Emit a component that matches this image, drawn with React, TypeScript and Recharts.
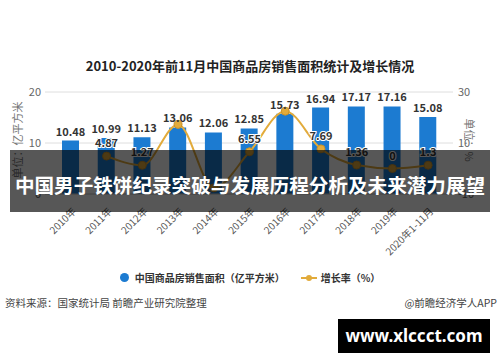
import React from 'react';
import { ComposedChart, Bar, Line, XAxis, YAxis, CartesianGrid, LabelList } from 'recharts';

const years = ['2010年', '2011年', '2012年', '2013年', '2014年', '2015年', '2016年', '2017年', '2018年', '2019年', '2020年1-11月'];
const salesArea = [10.48, 10.99, 11.13, 13.06, 12.06, 12.85, 15.73, 16.94, 17.17, 17.16, 15.08];
const growthRate = [null, 4.87, 1.27, 17.3, -7.6, 6.55, 22.5, 7.69, 1.36, 0, 1.3];
const growthLabels = [null, '4.87', '1.27', null, null, '6.55', null, '7.69', '1.36', '0', '1.3'];
const leftTicks = [0, 10, 20];
const rightTicks = [-10, 10, 30];

const data = years.map((year, i) => ({
  year,
  area: salesArea[i],
  growth: growthRate[i],
}));

const font = '"Noto Sans CJK SC", "Noto Sans", sans-serif';
const BLUE = '#1c7bd1';
const GOLD = '#e2ab3b';

const YearTick = ({ x, y, payload }: any) => (
  <text
    x={x + 4}
    y={y + 8}
    transform={`rotate(-45, ${x + 4}, ${y + 8})`}
    textAnchor="end"
    dominantBaseline="middle"
    fontSize={10}
    fill="#555"
    fontFamily={font}
  >
    {payload.value}
  </text>
);

const GrowthLabel = ({ x, y, index }: any) => {
  const text = growthLabels[index];
  if (!text) return null;
  return (
    <text
      x={x}
      y={y - 9}
      textAnchor="middle"
      fontSize={11}
      fontWeight="bold"
      fill="#333"
      stroke="#fff"
      strokeWidth={2}
      paintOrder="stroke"
      fontFamily={font}
    >
      {text}
    </text>
  );
};

export default function App() {
  return (
    <div style={{ position: 'relative', width: 500, height: 362, background: '#fff', fontFamily: font, overflow: 'hidden' }}>
      <style>{`body{margin:0}`}</style>

      {/* title */}
      <div style={{ position: 'absolute', top: 56, left: 0, width: 500, textAlign: 'center', fontSize: 13, fontWeight: 'bold', color: '#222' }}>
        2010-2020年前11月中国商品房销售面积统计及增长情况
      </div>

      <ComposedChart
        width={500}
        height={260}
        data={data}
        margin={{ top: 92, right: 0, left: 0, bottom: 0 }}
        style={{ position: 'absolute', top: 0, left: 0 }}
      >
        <CartesianGrid yAxisId="left" vertical={false} stroke="#dedede" />
        <XAxis
          dataKey="year"
          height={66}
          padding={{ left: 8, right: 7 }}
          axisLine={{ stroke: '#ccc' }}
          tickLine={false}
          interval={0}
          tick={<YearTick />}
        />
        <YAxis
          yAxisId="left"
          width={45}
          domain={[0, 20]}
          ticks={leftTicks}
          axisLine={false}
          tickLine={false}
          tickSize={0}
          tickMargin={4}
          tick={{ fontSize: 11, fill: '#666', fontFamily: font }}
        />
        <YAxis
          yAxisId="right"
          orientation="right"
          width={47}
          domain={[-10, 30]}
          ticks={rightTicks}
          axisLine={false}
          tickLine={false}
          tickSize={0}
          tickMargin={5}
          tick={{ fontSize: 11, fill: '#666', fontFamily: font }}
        />
        <Bar yAxisId="left" dataKey="area" fill={BLUE} barSize={17} isAnimationActive={false}>
          <LabelList dataKey="area" position="top" offset={5} fontSize={11} fontWeight="bold" fill="#333" fontFamily={font} />
        </Bar>
        <Line
          yAxisId="right"
          type="monotone"
          dataKey="growth"
          stroke={GOLD}
          strokeWidth={2}
          dot={{ r: 4, fill: GOLD, stroke: '#c8912a', strokeWidth: 1 }}
          isAnimationActive={false}
        >
          <LabelList dataKey="growth" content={<GrowthLabel />} />
        </Line>
      </ComposedChart>

      {/* axis units */}
      <div style={{ position: 'absolute', left: 17, top: 140, transform: 'translate(-50%, -50%) rotate(-90deg)', fontSize: 11, color: '#777', whiteSpace: 'nowrap' }}>
        单位：亿平方米
      </div>
      <div style={{ position: 'absolute', left: 470, top: 140, transform: 'translate(-50%, -50%) rotate(90deg)', fontSize: 11, color: '#777', whiteSpace: 'nowrap' }}>
        单位：%
      </div>

      {/* legend */}
      <div style={{ position: 'absolute', top: 270, left: 0, width: 500, display: 'flex', justifyContent: 'center', alignItems: 'center', fontSize: 10, color: '#333', fontWeight: 'bold' }}>
        <span style={{ display: 'inline-block', width: 9, height: 9, borderRadius: '50%', background: BLUE, marginRight: 6 }} />
        <span>中国商品房销售面积（亿平方米）</span>
        <span style={{ position: 'relative', display: 'inline-block', width: 16, height: 2, background: GOLD, marginLeft: 16, marginRight: 4 }}>
          <span style={{ position: 'absolute', left: 5, top: -2, width: 6, height: 6, borderRadius: '50%', background: GOLD }} />
        </span>
        <span>增长率（%）</span>
      </div>

      {/* source */}
      <div style={{ position: 'absolute', top: 295, left: 5, fontSize: 10.5, color: '#444' }}>
        资料来源：国家统计局 前瞻产业研究院整理
      </div>
      <div style={{ position: 'absolute', top: 295, right: 3, fontSize: 10.5, color: '#444' }}>
        @前瞻经济学人APP
      </div>

      {/* overlay banner */}
      <div style={{ position: 'absolute', left: 10, top: 150, width: 480, height: 62, background: 'rgba(0,0,0,0.66)' }} />
      <div style={{ position: 'absolute', left: 0, top: 170, width: 500, textAlign: 'center', fontSize: 19.6, lineHeight: '30px', fontWeight: 'bold', color: '#fff', whiteSpace: 'nowrap' }}>
        中国男子铁饼纪录突破与发展历程分析及未来潜力展望
      </div>

      {/* site box */}
      <div style={{ position: 'absolute', left: 338, top: 319, width: 152, height: 34, background: '#000', color: '#fff', fontFamily: '"Noto Sans", sans-serif', fontWeight: 'bold', fontSize: 17, lineHeight: '34px', textAlign: 'center' }}>
        www.xlccct.com
      </div>
    </div>
  );
}
